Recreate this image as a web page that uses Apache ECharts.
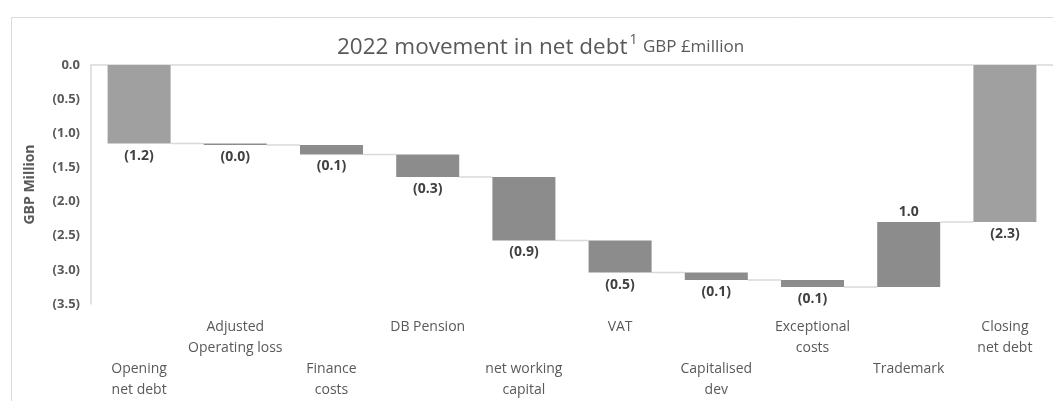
<!DOCTYPE html>
<html><head><meta charset="utf-8">
<script src="https://cdn.jsdelivr.net/npm/echarts@6/dist/echarts.min.js"></script>
<style>html,body{margin:0;padding:0;background:#fff}#c{width:1053px;height:401px}</style>
</head><body><div id="c"></div>
<script>
var categories = ['Opening\nnet debt','Adjusted\nOperating loss','Finance\ncosts','DB Pension','net working\ncapital','VAT','Capitalised\ndev','Exceptional\ncosts','Trademark','Closing\nnet debt'];
var openingNetDebt = -1.15;
var movements = [-0.02, -0.14, -0.33, -0.93, -0.47, -0.11, -0.10, 0.95];
var closingNetDebt = -2.30;
var yTicks = [0, -0.5, -1.0, -1.5, -2.0, -2.5, -3.0, -3.5];

function fmt(v){
  var r = Math.round(Math.abs(v)*10 + 1e-9)/10;
  var s = r.toFixed(1);
  return v < 0 ? '(' + s + ')' : s;
}

// build waterfall
var base = [], vis = [], signed = [], colors = [], levels = [];
base.push(0); vis.push(openingNetDebt); signed.push(openingNetDebt); colors.push('#a0a0a0');
var run = openingNetDebt; levels.push(run);
movements.forEach(function(m){
  var start = run, end = run + m;
  if (m <= 0) { base.push(start); vis.push(m); }
  else { base.push(end); vis.push(-m); }
  signed.push(m); colors.push('#8c8c8c');
  run = end; levels.push(run);
});
base.push(0); vis.push(closingNetDebt); signed.push(closingNetDebt); colors.push('#a0a0a0');

var BARFRAC = 0.655;
var chart = echarts.init(document.getElementById('c'), null, {renderer:'canvas'});
chart.setOption({
  animation:false,
  backgroundColor:'#fff',
  graphic:[{type:'rect', left:9, top:15, shape:{width:1100, height:500}, style:{fill:'none', stroke:'#d9d9d9', lineWidth:1}, silent:true}],
  title:{
    left:332, top:28, itemGap:0,
    text:'{a|2022 movement in net debt}{sup|1}{b| GBP £million}',
    textStyle:{fontWeight:'normal', rich:{
      a:{fontFamily:'Open Sans', fontSize:22.5, fontWeight:'normal', color:'#595959'},
      sup:{fontFamily:'Open Sans', fontSize:14, fontWeight:'normal', color:'#595959', padding:[0,1,15,2]},
      b:{fontFamily:'Open Sans', fontSize:17, fontWeight:'normal', color:'#595959'}
    }}
  },
  grid:{left:91, right:-1, top:65, bottom:95, containLabel:false},
  xAxis:{
    type:'category', data:categories,
    axisLine:{lineStyle:{color:'#d9d9d9', width:1.5}},
    axisTick:{show:false},
    axisLabel:{interval:0, margin:13, color:'#595959', fontFamily:'Open Sans', fontSize:14, lineHeight:21,
      formatter:function(v, i){ return (i % 2 === 0 ? '\n\n' : '') + v; }}
  },
  yAxis:{
    type:'value', min:-3.5, max:0, interval:0.5,
    name:'GBP Million', nameLocation:'middle', nameGap:54, nameRotate:90,
    nameTextStyle:{fontFamily:'Open Sans', fontSize:14, fontWeight:'bold', color:'#595959'},
    axisLine:{show:true, lineStyle:{color:'#d9d9d9', width:1.5}},
    axisTick:{show:false},
    splitLine:{show:false},
    axisLabel:{margin:11, color:'#595959', fontFamily:'Open Sans', fontSize:13, fontWeight:'bold',
      formatter:function(v){ return v === 0 ? '0.0' : fmt(v); }}
  },
  series:[
    {type:'bar', stack:'w', data:base, barWidth:(BARFRAC*100)+'%', itemStyle:{color:'transparent'}, silent:true},
    {type:'bar', stack:'w', barWidth:(BARFRAC*100)+'%',
      data:vis.map(function(v,i){
        return {value:v, itemStyle:{color:colors[i]},
          label:{show:true, position: signed[i] > 0 ? 'top' : 'bottom', distance: signed[i] > 0 ? 3 : 5,
            formatter: fmt(signed[i])}};
      }),
      label:{fontFamily:'Open Sans', fontSize:14, fontWeight:'bold', color:'#404040'}
    },
    {type:'custom', data:levels.map(function(l,i){return [i,l];}), silent:true, z:1,
      renderItem:function(params, api){
        var p = api.coord([api.value(0), api.value(1)]);
        var bw = api.size([1,0])[0];
        var half = bw*BARFRAC/2;
        return {type:'line', shape:{x1:p[0]+half, y1:p[1], x2:p[0]+bw-half, y2:p[1]},
          style:{stroke:'#d9d9d9', lineWidth:1.5}};
      }}
  ]
});
</script></body></html>
